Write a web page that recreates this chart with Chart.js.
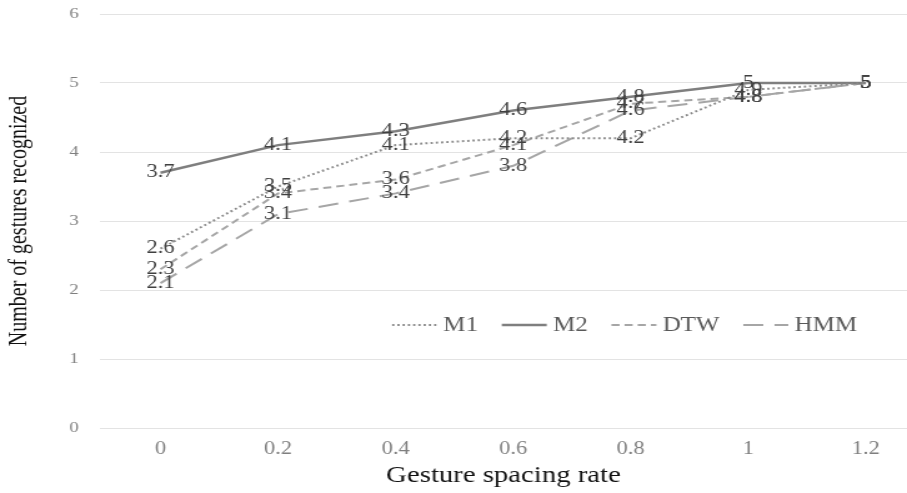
<!DOCTYPE html>
<html>
<head>
<meta charset="utf-8">
<script src="https://cdn.jsdelivr.net/npm/chart.js@4"></script>
<style>
  html, body { margin: 0; padding: 0; background: #ffffff; overflow: hidden; }
  #c { display: block; width: 907px !important; height: 493px !important; }
</style>
</head>
<body>
<canvas id="c" width="726" height="493" style="width:907px;height:493px;display:block"></canvas>
<script>
// ---- data ----
const xValues = [0, 0.2, 0.4, 0.6, 0.8, 1, 1.2];
const xLabels = ['0', '0.2', '0.4', '0.6', '0.8', '1', '1.2'];
const yTicks = [0, 1, 2, 3, 4, 5, 6];
const seriesNames = ['M1', 'M2', 'DTW', 'HMM'];
const m1  = [2.6, 3.5, 4.1, 4.2, 4.2, 4.9, 5];
const m2  = [3.7, 4.1, 4.3, 4.6, 4.8, 5, 5];
const dtw = [2.3, 3.4, 3.6, 4.1, 4.7, 4.8, 5];
const hmm = [2.1, 3.1, 3.4, 3.8, 4.6, 4.8, 5];

const SERIF = "'Liberation Serif', 'Times New Roman', serif";
Chart.defaults.font.family = SERIF;

const styles = [
  { color: '#8a8a8a', width: 2,   dash: [1.8, 2.4] },
  { color: '#7f7f7f', width: 2.5, dash: [] },
  { color: '#a6a6a6', width: 2,   dash: [6.5, 4] },
  { color: '#a6a6a6', width: 2,   dash: [16, 9] }
];
const allSeries = [m1, m2, dtw, hmm];

const datasets = allSeries.map((vals, s) => ({
  label: seriesNames[s],
  data: xValues.map((x, i) => ({ x: x, y: vals[i] })),
  borderColor: styles[s].color,
  backgroundColor: styles[s].color,
  borderWidth: styles[s].width,
  borderDash: styles[s].dash,
  pointRadius: 0,
  pointHoverRadius: 0,
  tension: 0,
  fill: false
}));

// value labels at every point
const valueLabels = {
  id: 'valueLabels',
  afterDatasetsDraw(chart) {
    const ctx = chart.ctx;
    ctx.save();
    ctx.font = '18px ' + SERIF;
    ctx.fillStyle = '#404040';
    ctx.textAlign = 'center';
    ctx.textBaseline = 'middle';
    chart.data.datasets.forEach((ds, di) => {
      const meta = chart.getDatasetMeta(di);
      meta.data.forEach((pt, i) => {
        ctx.fillText(String(allSeries[di][i]), pt.x, pt.y);
      });
    });
    ctx.restore();
  }
};

// legend drawn inside the plot area
const innerLegend = {
  id: 'innerLegend',
  afterDraw(chart) {
    const ctx = chart.ctx;
    const a = chart.chartArea;
    let x = a.left + (a.right - a.left) * 0.362;
    const y = a.top + (a.bottom - a.top) * 0.751;
    const sample = 36, gapText = 5, gapItem = 19;
    ctx.save();
    ctx.font = '20px ' + SERIF;
    ctx.textBaseline = 'middle';
    ctx.textAlign = 'left';
    chart.data.datasets.forEach((ds, di) => {
      ctx.save();
      ctx.strokeStyle = ds.borderColor;
      ctx.lineWidth = ds.borderWidth;
      ctx.setLineDash(ds.borderDash || []);
      ctx.beginPath();
      ctx.moveTo(x, y);
      ctx.lineTo(x + sample, y);
      ctx.stroke();
      ctx.restore();
      x += sample + gapText;
      ctx.fillStyle = '#595959';
      ctx.fillText(ds.label, x, y + 1);
      x += ctx.measureText(ds.label).width + gapItem;
    });
    ctx.restore();
  }
};

new Chart(document.getElementById('c'), {
  type: 'line',
  data: { datasets: datasets },
  options: {
    responsive: false,
    devicePixelRatio: 1,
    animation: false,
    layout: { padding: { top: 0, left: 0, right: 0, bottom: 0 } },
    plugins: {
      legend: { display: false },
      tooltip: { enabled: false }
    },
    scales: {
      x: {
        type: 'linear',
        min: -0.103,
        max: 1.27,
        afterBuildTicks: (axis) => { axis.ticks = xValues.map(v => ({ value: v })); },
        afterFit: (scale) => { scale.height = 65; },
        grid: { display: false, drawTicks: false },
        border: { display: false },
        ticks: {
          autoSkip: false,
          maxRotation: 0,
          padding: 10,
          color: '#7f7f7f',
          font: { size: 18 },
          callback: (v, i) => xLabels[i]
        },
        title: {
          display: true,
          text: 'Gesture spacing rate',
          color: '#111111',
          font: { size: 23 },
          padding: { top: 0, bottom: 3 }
        }
      },
      y: {
        min: 0,
        max: 6,
        afterBuildTicks: (axis) => { axis.ticks = yTicks.map(v => ({ value: v })); },
        afterFit: (scale) => {
          scale.width = 80;
          scale.paddingTop = 14;
          scale.paddingBottom = 10;
        },
        grid: { color: '#e3e3e3', lineWidth: 1, drawTicks: false },
        border: { display: false },
        ticks: {
          padding: 17,
          color: '#7f7f7f',
          font: { size: 15 }
        },
        title: {
          display: true,
          text: 'Number of gestures recognized',
          color: '#111111',
          font: { size: 20 },
          padding: { top: 4, bottom: 0 }
        }
      }
    }
  },
  plugins: [valueLabels, innerLegend]
});
</script>
</body>
</html>
